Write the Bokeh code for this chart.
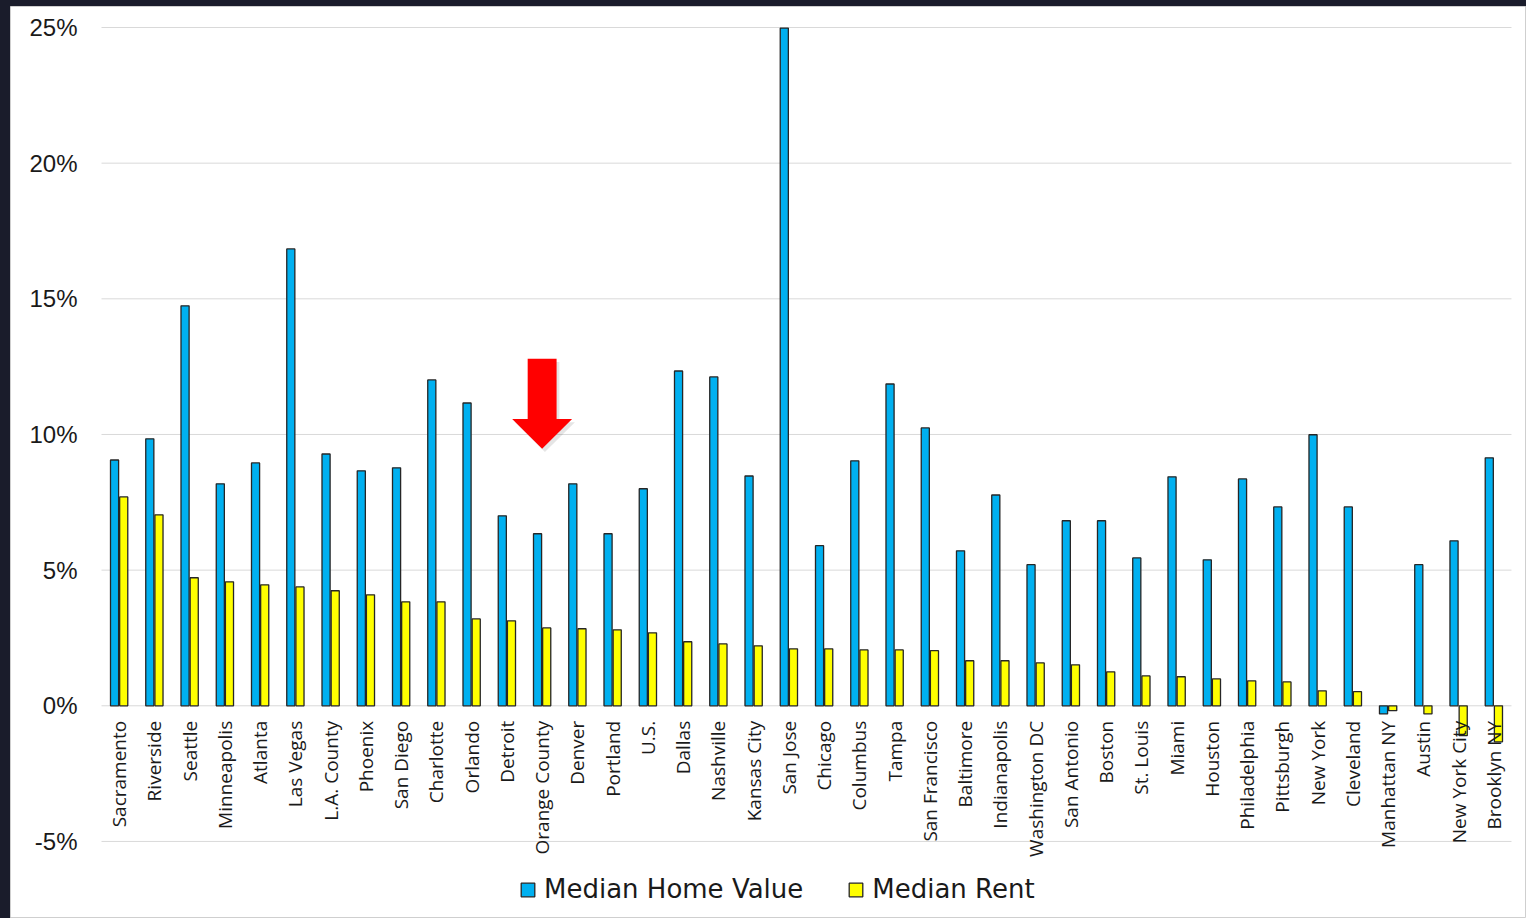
import numpy as np
from bokeh.plotting import figure
from bokeh.models import Range1d, ColumnDataSource, Legend, LegendItem
from bokeh.layouts import column
from bokeh.embed import file_html
from bokeh.resources import INLINE
from bokeh.core.properties import value

cities = ["Sacramento", "Riverside", "Seattle", "Minneapolis", "Atlanta", "Las Vegas",
          "L.A. County", "Phoenix", "San Diego", "Charlotte", "Orlando", "Detroit",
          "Orange County", "Denver", "Portland", "U.S.", "Dallas", "Nashville",
          "Kansas City", "San Jose", "Chicago", "Columbus", "Tampa", "San Francisco",
          "Baltimore", "Indianapolis", "Washington DC", "San Antonio", "Boston",
          "St. Louis", "Miami", "Houston", "Philadelphia", "Pittsburgh", "New York",
          "Cleveland", "Manhattan NY", "Austin", "New York City", "Brooklyn NY"]
home_value = [9.06, 9.84, 14.74, 8.18, 8.95, 16.84, 9.28, 8.66, 8.77, 12.01,
              11.16, 7.0, 6.34, 8.18, 6.34, 8.0, 12.34, 12.12, 8.47, 24.98,
              5.9, 9.03, 11.86, 10.24, 5.71, 7.77, 5.2, 6.82, 6.82, 5.45,
              8.44, 5.38, 8.36, 7.33, 9.99, 7.33, -0.3, 5.2, 6.08, 9.14]
rent = [7.7, 7.04, 4.72, 4.57, 4.46, 4.38, 4.24, 4.09, 3.83, 3.83,
        3.2, 3.13, 2.87, 2.84, 2.8, 2.69, 2.36, 2.28, 2.21, 2.1,
        2.1, 2.06, 2.06, 2.03, 1.66, 1.66, 1.58, 1.51, 1.25, 1.1,
        1.07, 0.99, 0.92, 0.88, 0.55, 0.52, -0.18, -0.3, -1.1, -1.33]
y_ticks = [-5, 0, 5, 10, 15, 20, 25]
y_tick_labels = ["-5%", "0%", "5%", "10%", "15%", "20%", "25%"]
highlight = "Orange County"

n = len(cities)
xs = np.arange(n) + 0.5
src = ColumnDataSource(dict(x=xs, city=cities, home=home_value, rent=rent,
                            xh=xs - 0.13, xr=xs + 0.13))
tick_src = ColumnDataSource(dict(y=y_ticks, label=y_tick_labels))

p = figure(width=1516, height=912, output_backend="svg", toolbar_location=None,
           x_range=Range1d(-2.582, n + 0.426), y_range=Range1d(-7.84, 25.774),
           x_axis_location=None, y_axis_location=None,
           min_border_left=0, min_border_right=0,
           min_border_top=0, min_border_bottom=0,
           outline_line_color="#cfcfcf")
p.margin = (6, 0, 0, 10)
p.background_fill_color = "white"
p.border_fill_color = "white"
p.xgrid.visible = False
p.ygrid.visible = False

# horizontal gridlines across the category range
p.segment(x0=0, x1=n, y0="y", y1="y", source=tick_src,
          line_color="#d9d9d9", line_width=1)
# value-axis labels
p.text(x=0, y="y", text="label", source=tick_src, x_offset=-24,
       text_align="right", text_baseline="middle",
       text_font=value("Liberation Sans"), text_font_size="24px", text_color="#1a1a1a")

r1 = p.vbar(x="xh", top="home", bottom=0, width=0.23, source=src,
            fill_color="#00B0F0", line_color="#262626", line_width=1.3)
r2 = p.vbar(x="xr", top="rent", bottom=0, width=0.23, source=src,
            fill_color="#FFFF00", line_color="#262626", line_width=1.3)

p.text(x="x", y=0, text="city", source=src, angle=np.pi / 2,
       text_align="right", text_baseline="middle", y_offset=15,
       text_font=value("Open Sans"), text_font_size="19px", text_color="#1a1a1a")

# red arrow over highlighted category
ci = cities.index(highlight) + 0.5
ax = [ci - 0.41, ci + 0.41, ci + 0.41, ci + 0.85, ci, ci - 0.85, ci - 0.41]
ay = [12.79, 12.79, 10.57, 10.57, 9.47, 10.57, 10.57]
p.patch(x=[v + 0.08 for v in ax], y=[v - 0.12 for v in ay], fill_color="#000000",
        fill_alpha=0.1, line_color=None)
p.patch(x=ax, y=ay, fill_color="#FF0000", line_color=None)

legend = Legend(items=[LegendItem(label="Median Home Value", renderers=[r1]),
                       LegendItem(label="Median Rent", renderers=[r2])],
                orientation="horizontal", location=(509, 14))
legend.label_text_font = "DejaVu Sans"
legend.label_text_font_size = "26px"
legend.label_text_color = "#1a1a1a"
legend.glyph_width = 17
legend.glyph_height = 17
legend.spacing = 44
legend.label_standoff = 8
legend.border_line_color = None
legend.background_fill_alpha = 0
legend.padding = 0
legend.margin = 0
p.add_layout(legend)

root = column(p, styles={"background-color": "#1a1c2b"})
open("out.html", "w").write(file_html(root, INLINE))
